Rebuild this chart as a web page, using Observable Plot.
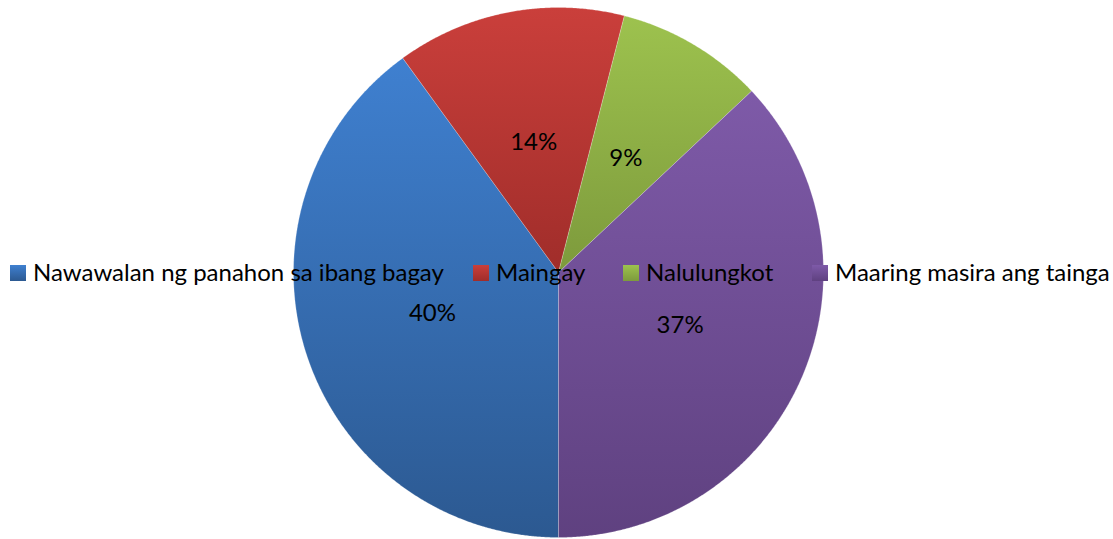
<!DOCTYPE html>
<html>
<head>
<meta charset="utf-8">
<script src="https://cdn.jsdelivr.net/npm/d3@7"></script>
<script src="https://cdn.jsdelivr.net/npm/@observablehq/plot@0.6"></script>
<style>
  html, body { margin: 0; padding: 0; background: #fff; }
  #wrap { position: relative; width: 1113px; height: 539px; font-family: Lato, "Open Sans", sans-serif; }
  #legend { position: absolute; left: 0; top: 0; width: 1113px; height: 539px; pointer-events: none; }
  .item { position: absolute; top: 256px; height: 32px; line-height: 32px; font-size: 24px; color: #000; white-space: nowrap; width: max-content; }
  .sw { position: absolute; left: 0; top: 9px; width: 16px; height: 16px; min-width: 16px; }
  .lt { position: relative; left: 23px; }
</style>
</head>
<body>
<div id="wrap"></div>
<script>
const categories = ["Nawawalan ng panahon sa ibang bagay", "Maingay", "Nalulungkot", "Maaring masira ang tainga"];
const values = [40, 14, 9, 37];
const topColors = ["#3f80d0", "#ca3f3b", "#9dc24e", "#7e5aa8"];
const bottomColors = ["#2c5991", "#a02d2a", "#7d9a3c", "#5f4180"];
const legendX = [10, 473, 623, 812];

const total = d3.sum(values);
const startAngle = Math.PI; // begin at 6 o'clock, clockwise
let acc = 0;
const slices = values.map((v, i) => {
  const a0 = startAngle + (acc / total) * 2 * Math.PI;
  acc += v;
  const a1 = startAngle + (acc / total) * 2 * Math.PI;
  return {i, name: categories[i], value: v, a0, a1};
});

function polygon(s) {
  const pts = [{x: 0, y: 0}];
  const n = Math.max(4, Math.ceil((s.a1 - s.a0) / 0.005));
  for (let k = 0; k <= n; k++) {
    const a = s.a0 + (s.a1 - s.a0) * k / n;
    pts.push({x: Math.sin(a), y: Math.cos(a)});
  }
  pts.push({x: 0, y: 0});
  return pts;
}

const labels = slices.map(s => {
  const m = (s.a0 + s.a1) / 2;
  return {x: 0.5 * Math.sin(m), y: 0.5 * Math.cos(m), text: s.value + "%"};
});

const plot = Plot.plot({
  width: 1113,
  height: 539,
  marginLeft: 293,
  marginRight: 290,
  marginTop: 7,
  marginBottom: 2,
  x: {domain: [-1, 1], axis: null},
  y: {domain: [-1, 1], axis: null},
  style: {background: "white", fontFamily: "Lato, 'Open Sans', sans-serif"},
  marks: [
    ...slices.map(s => Plot.line(polygon(s), {
      x: "x", y: "y",
      fill: `url(#grad${s.i})`,
      stroke: "#ffffff", strokeOpacity: 0.35, strokeWidth: 0.6,
      curve: "linear"
    })),
    Plot.text(labels, {x: "x", y: "y", text: "text", fontSize: 24, fill: "#000", fontFamily: "Lato, 'Open Sans', sans-serif"})
  ]
});

// gradient definitions
const ns = "http://www.w3.org/2000/svg";
const defs = document.createElementNS(ns, "defs");
slices.forEach(s => {
  const g = document.createElementNS(ns, "linearGradient");
  g.setAttribute("id", "grad" + s.i);
  g.setAttribute("x1", "0"); g.setAttribute("y1", "0");
  g.setAttribute("x2", "0"); g.setAttribute("y2", "1");
  const st0 = document.createElementNS(ns, "stop");
  st0.setAttribute("offset", "0"); st0.setAttribute("stop-color", topColors[s.i]);
  const st1 = document.createElementNS(ns, "stop");
  st1.setAttribute("offset", "1"); st1.setAttribute("stop-color", bottomColors[s.i]);
  g.appendChild(st0); g.appendChild(st1);
  defs.appendChild(g);
});
plot.insertBefore(defs, plot.firstChild);

const wrap = document.getElementById("wrap");
wrap.appendChild(plot);

const legend = document.createElement("div");
legend.id = "legend";
categories.forEach((c, i) => {
  const item = document.createElement("div");
  item.className = "item";
  item.style.left = legendX[i] + "px";
  const sw = document.createElement("div");
  sw.className = "sw";
  sw.style.background = `linear-gradient(${topColors[i]}, ${bottomColors[i]})`;
  const t = document.createElement("span");
  t.className = "lt";
  t.textContent = c;
  item.appendChild(sw);
  item.appendChild(t);
  legend.appendChild(item);
});
wrap.appendChild(legend);
</script>
</body>
</html>
